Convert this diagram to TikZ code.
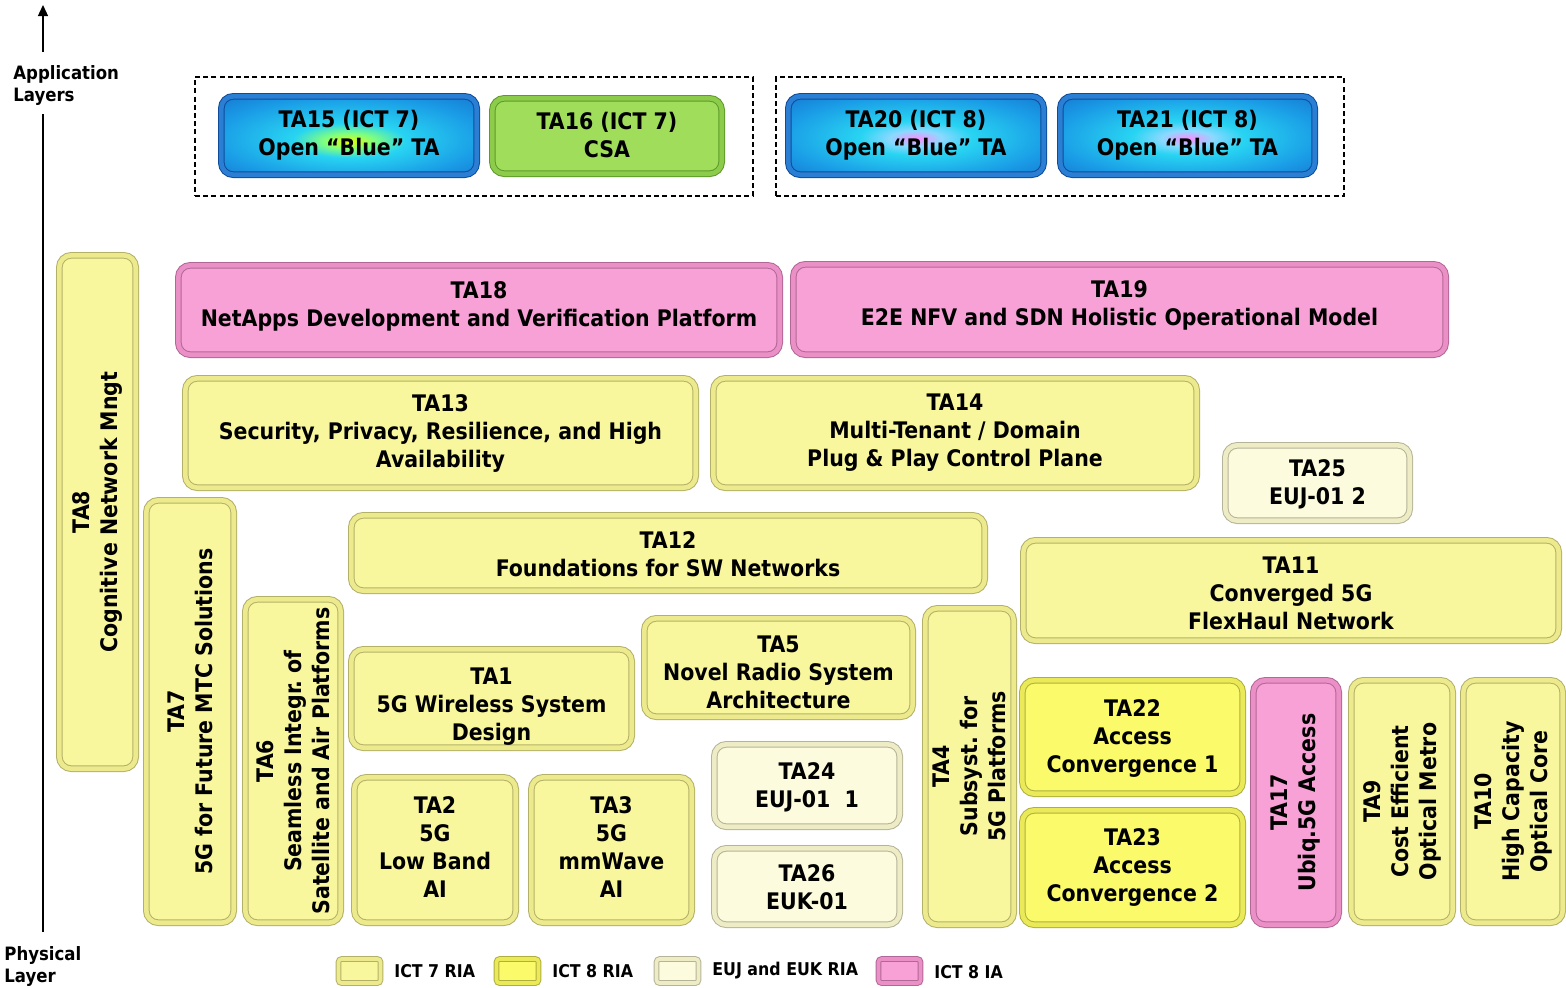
\documentclass[tikz,border=0pt]{standalone}
\usepackage{fontspec}
\setmainfont{DejaVu Sans Condensed}[BoldFont={DejaVu Sans Condensed Bold}]
\usetikzlibrary{shadows,arrows.meta}
\frenchspacing
\definecolor{c7f}{HTML}{F9F79D}\definecolor{c7b}{HTML}{ECEA8C}\definecolor{c7l}{HTML}{B3B168}
\definecolor{c8f}{HTML}{FAFA6B}\definecolor{c8b}{HTML}{EAE958}\definecolor{c8l}{HTML}{B0AF3E}
\definecolor{cef}{HTML}{FCFBDD}\definecolor{ceb}{HTML}{EDECC4}\definecolor{cel}{HTML}{B5B498}
\definecolor{cpf}{HTML}{F7A1D6}\definecolor{cpb}{HTML}{EB8FC7}\definecolor{cpl}{HTML}{B26896}
\definecolor{cgf}{HTML}{9FDD5B}\definecolor{cgb}{HTML}{8DCB4B}\definecolor{cgl}{HTML}{5E9A2A}
\definecolor{cbb}{HTML}{2A7FD4}\definecolor{cbl}{HTML}{0E4C9A}
\definecolor{bA}{HTML}{1466C8}\definecolor{bB}{HTML}{1A9CE6}\definecolor{bC}{HTML}{28D4F2}
\pgfdeclareradialshading{blueY}{\pgfpoint{0bp}{-4bp}}{color(0bp)=(yellow!90!green); color(5bp)=(yellow!50!cyan); color(11bp)=(bC); color(26bp)=(bB); color(42bp)=(bA); color(50bp)=(bA)}
\pgfdeclareradialshading{blueP}{\pgfpoint{0bp}{-2bp}}{color(0bp)=(magenta!45!white); color(5bp)=(magenta!25!cyan!60!white); color(11bp)=(bC); color(26bp)=(bB); color(42bp)=(bA); color(50bp)=(bA)}
\newcommand\mainfnt{\bfseries\fontsize{11.4}{14}\selectfont}
% \tah[text shift down in px]{style}{name}{x1}{y1}{x2}{y2}{text}
\newcommand\tah[8][0]{\node[#2, minimum width={(#6-#4)*0.5pt-3.3pt}, minimum height={(#7-#5)*0.5pt-3.3pt}] (#3) at ({(#4+#6)/2},{(#5+#7)/2}) {};
  \node[txt, yshift={-(#1)*0.5pt}] (#3t) at (#3.center) {#8};}
\newcommand\tav[7]{\node[#1, rotate=90, minimum width={(#6-#4)*0.5pt-3.3pt}, minimum height={(#5-#3)*0.5pt-3.3pt}] (#2) at ({(#3+#5)/2},{(#4+#6)/2}) {#7};}
\tikzset{
  txt/.style={align=center, inner sep=0pt, font=\mainfnt},
  tabase/.style={rounded corners=6pt, line width=0.5pt, double distance=2.3pt, align=center, inner sep=0pt, font=\mainfnt,
    drop shadow={opacity=0.22, shadow xshift=1.2pt, shadow yshift=-1.2pt}},
  ict7/.style={tabase, fill=c7f, draw=c7l, double=c7b},
  ict8/.style={tabase, fill=c8f, draw=c8l, double=c8b},
  euj/.style={tabase, fill=cef, draw=cel, double=ceb},
  pinkia/.style={tabase, fill=cpf, draw=cpl, double=cpb},
  greenb/.style={tabase, fill=cgf, draw=cgl, double=cgb},
  blueybox/.style={tabase, shade, shading=blueY, draw=cbl, double=cbb},
  bluepbox/.style={tabase, shade, shading=blueP, draw=cbl, double=cbb},
  grp/.style={draw=black, line width=0.6pt, dash pattern=on 2.5pt off 1.6pt, inner sep=0pt},
  legsw/.style={rounded corners=1.5pt, line width=0.5pt, double distance=1.8pt, inner sep=0pt,
    minimum width=21pt, minimum height=12pt},
  legtxt/.style={anchor=west, inner sep=0pt, font=\bfseries\fontsize{8.8}{10}\selectfont},
  axtxt/.style={anchor=west, inner sep=0pt, align=left, font=\bfseries\fontsize{9.2}{11}\selectfont},
}
\begin{document}
\begin{tikzpicture}[x=0.5pt, y=-0.5pt]
\useasboundingbox (0,0) rectangle (1566,987);
% axis
\node[axtxt] (app) at (13,85) {Application\\Layers};
\node[axtxt] (phy) at (4,966) {Physical\\Layer};
\coordinate (axtop) at (43,5);
\coordinate (axup) at (43,52);
\coordinate (axlow) at (43,114);
\coordinate (axbot) at (43,932);
\draw[line width=0.65pt, -{Triangle[length=5.5pt,width=5pt]}] (axup) -- (axtop);
\draw[line width=0.65pt] (axbot) -- (axlow);
% groups
\node[grp, minimum width=279pt, minimum height=59.5pt] (grp1) at (474,136.5) {};
\node[grp, minimum width=284pt, minimum height=59.5pt] (grp2) at (1060,136.5) {};
\tah{blueybox}{ta15}{218}{93}{480}{178}{TA15 (ICT 7)\\Open “Blue” TA}
\tah[-1]{greenb}{ta16}{489}{95}{725}{177}{TA16 (ICT 7)\\CSA}
\tah{bluepbox}{ta20}{785}{93}{1047}{178}{TA20 (ICT 8)\\Open “Blue” TA}
\tah{bluepbox}{ta21}{1057}{93}{1318}{178}{TA21 (ICT 8)\\Open “Blue” TA}
% upper layers
\tav{ict7}{ta8}{56}{252}{139}{772}{TA8\\Cognitive Network Mngt}
\tah[-4]{pinkia}{ta18}{175}{262}{783}{358}{TA18\\NetApps Development and Verification Platform}
\tah[-4]{pinkia}{ta19}{790}{261}{1449}{358}{TA19\\E2E NFV and SDN Holistic Operational Model}
\tah{ict7}{ta13}{182}{375}{699}{491}{TA13\\Security, Privacy, Resilience, and High\\Availability}
\tah{ict7}{ta14}{710}{375}{1200}{491}{TA14\\Multi-Tenant / Domain\\Plug \& Play Control Plane}
\tah[1]{euj}{ta25}{1222}{442}{1413}{524}{TA25\\EUJ-01 2}
\tav{ict7}{ta7}{143}{497}{237}{926}{TA7\\5G for Future MTC Solutions}
\tah[1]{ict7}{ta12}{348}{512}{988}{594}{TA12\\Foundations for SW Networks}
\tah[3]{ict7}{ta11}{1020}{537}{1562}{644}{TA11\\Converged 5G\\FlexHaul Network}
\tav{ict7}{ta6}{242}{596}{344}{926}{TA6\\Seamless Integr. of\\Satellite and Air Platforms}
\tah[5]{ict7}{ta5}{641}{615}{916}{720}{TA5\\Novel Radio System\\Architecture}
\tav{ict7}{ta4}{922}{605}{1017}{928}{TA4\\Subsyst. for\\5G Platforms}
\tah[8]{ict7}{ta1}{348}{646}{635}{751}{TA1\\5G Wireless System\\Design}
\tah[1]{ict8}{ta22}{1019}{677}{1246}{797}{TA22\\Access\\Convergence 1}
\tah{ict8}{ta23}{1019}{807}{1246}{928}{TA23\\Access\\Convergence 2}
\tav{pinkia}{ta17}{1250}{677}{1342}{928}{TA17\\Ubiq.5G Access}
\tav{ict7}{ta9}{1348}{677}{1456}{926}{TA9\\Cost Efficient\\Optical Metro}
\tav{ict7}{ta10}{1460}{677}{1566}{926}{TA10\\High Capacity\\Optical Core}
\tah[2]{euj}{ta24}{711}{741}{903}{830}{TA24\\EUJ-01~~1}
\tah[1]{euj}{ta26}{711}{845}{903}{928}{TA26\\EUK-01}
\tah[-3]{ict7}{ta2}{351}{774}{519}{926}{TA2\\5G\\Low Band\\AI}
\tah[-3]{ict7}{ta3}{528}{774}{695}{926}{TA3\\5G\\mmWave\\AI}
% legend
\node[legsw, fill=c7f, draw=c7l, double=c7b] (l1) at (359.5,971) {};
\node[legtxt] (l1t) at (394,971) {ICT 7 RIA};
\node[legsw, fill=c8f, draw=c8l, double=c8b] (l2) at (517.5,971) {};
\node[legtxt] (l2t) at (552,971) {ICT 8 RIA};
\node[legsw, fill=cef, draw=cel, double=ceb] (l3) at (677.5,971) {};
\node[legtxt] (l3t) at (712,971) {EUJ and EUK RIA};
\node[legsw, fill=cpf, draw=cpl, double=cpb] (l4) at (899.5,971) {};
\node[legtxt] (l4t) at (934,972) {ICT 8 IA};
\end{tikzpicture}
\end{document}
